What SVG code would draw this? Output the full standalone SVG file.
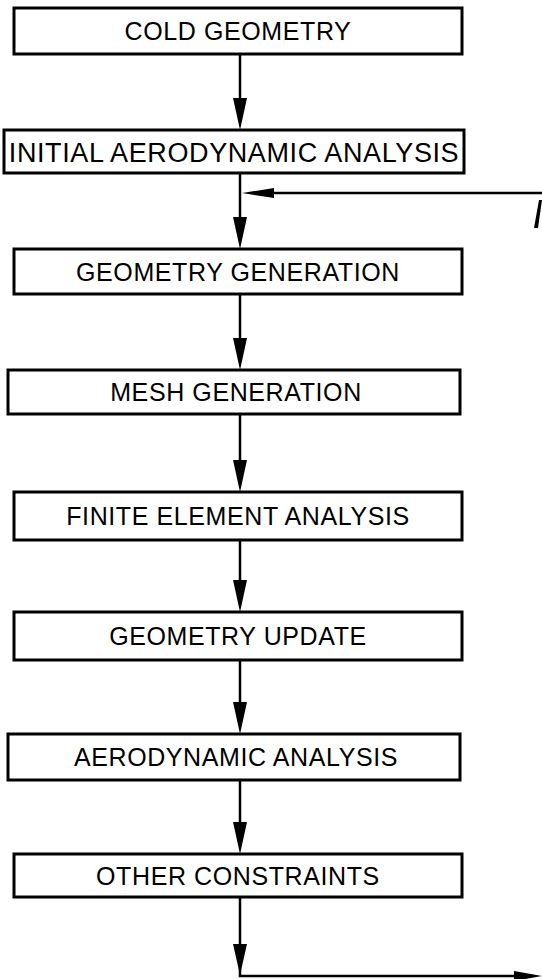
<svg xmlns="http://www.w3.org/2000/svg" width="542" height="979" viewBox="0 0 542 979">
<style>
.box{fill:#fff;stroke:#000;stroke-width:3}
.lbl{font-family:"Liberation Sans",Arial,sans-serif;font-size:25px;letter-spacing:0.6px;text-anchor:middle;fill:#000}
.ln{fill:none;stroke:#000;stroke-width:2.5}
.ah{fill:#000;stroke:none}
</style>
<rect width="542" height="979" fill="#fff"/>
<g id="connectors">
<line class="ln" x1="240" y1="54" x2="240" y2="110"/>
<polygon class="ah" points="233,98 247,98 240,130"/>
<line class="ln" x1="240" y1="173" x2="240" y2="230"/>
<polygon class="ah" points="233,217 247,217 240,249"/>
<line class="ln" x1="258" y1="193" x2="542" y2="193"/>
<polygon class="ah" points="242,193 274,188 274,198"/>
<polygon class="ah" points="534,228 539,200 542,200 538,228"/>
<line class="ln" x1="240" y1="294" x2="240" y2="350"/>
<polygon class="ah" points="233,338 247,338 240,370"/>
<line class="ln" x1="240" y1="414" x2="240" y2="472"/>
<polygon class="ah" points="233,460 247,460 240,492"/>
<line class="ln" x1="240" y1="540" x2="240" y2="592"/>
<polygon class="ah" points="233,580 247,580 240,612"/>
<line class="ln" x1="240" y1="660" x2="240" y2="714"/>
<polygon class="ah" points="233,702 247,702 240,734"/>
<line class="ln" x1="240" y1="780" x2="240" y2="834"/>
<polygon class="ah" points="233,822 247,822 240,854"/>
<polyline class="ln" points="240,897 240,976 520,976"/>
<polygon class="ah" points="233,944 247,944 240,975"/>
<polygon class="ah" points="542,976 514,971 514,981"/>
</g>
<g id="n1"><rect class="box" x="14" y="8" width="448" height="46"/><text class="lbl" x="238" y="40">COLD GEOMETRY</text></g>
<g id="n2"><rect class="box" x="4" y="130" width="460" height="43"/><text class="lbl" x="234" y="162" style="font-size:27px">INITIAL AERODYNAMIC ANALYSIS</text></g>
<g id="n3"><rect class="box" x="14" y="249" width="448" height="45"/><text class="lbl" x="238" y="281">GEOMETRY GENERATION</text></g>
<g id="n4"><rect class="box" x="8" y="370" width="452" height="44"/><text class="lbl" x="236" y="401">MESH GENERATION</text></g>
<g id="n5"><rect class="box" x="14" y="492" width="448" height="48"/><text class="lbl" x="238" y="525">FINITE ELEMENT ANALYSIS</text></g>
<g id="n6"><rect class="box" x="14" y="612" width="448" height="48"/><text class="lbl" x="238" y="645">GEOMETRY UPDATE</text></g>
<g id="n7"><rect class="box" x="8" y="734" width="452" height="46"/><text class="lbl" x="236" y="766">AERODYNAMIC ANALYSIS</text></g>
<g id="n8"><rect class="box" x="14" y="854" width="448" height="43"/><text class="lbl" x="238" y="885">OTHER CONSTRAINTS</text></g>
</svg>
